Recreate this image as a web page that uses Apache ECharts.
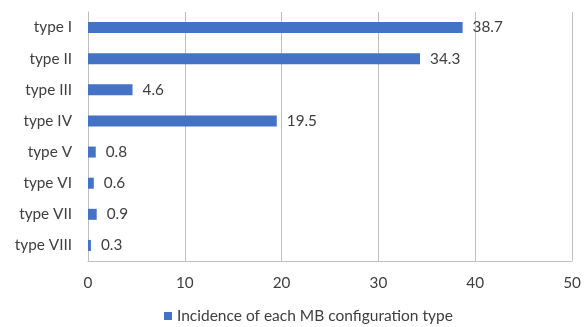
<!DOCTYPE html>
<html><head><meta charset="utf-8">
<script src="https://cdn.jsdelivr.net/npm/echarts@6/dist/echarts.min.js"></script>
<style>html,body{margin:0;padding:0;background:#fff}#c{width:587px;height:327px}</style>
</head><body><div id="c"></div>
<script>
const categories = ["type I","type II","type III","type IV","type V","type VI","type VII","type VIII"];
const values = [38.7, 34.3, 4.6, 19.5, 0.8, 0.6, 0.9, 0.3];
const xTicks = [0, 10, 20, 30, 40, 50];
const seriesName = "Incidence of each MB configuration type";
const font = "Lato, 'Open Sans', sans-serif";
const chart = echarts.init(document.getElementById('c'), null, {renderer:'canvas'});
chart.setOption({
  animation:false,
  backgroundColor:'#fff',
  grid:{left:88, right:15, top:12, bottom:66, containLabel:false},
  legend:{bottom:-2, left:159, icon:'rect', itemWidth:8, itemHeight:8, itemGap:4,
    textStyle:{fontFamily:font, fontSize:15.5, color:'#404040'}, data:[seriesName]},
  xAxis:{type:'value', min:xTicks[0], max:xTicks[xTicks.length-1], interval:10,
    axisLine:{show:true, lineStyle:{color:'#bfbfbf'}}, axisTick:{show:false},
    axisLabel:{fontFamily:font, fontSize:15.3, color:'#404040', margin:15},
    splitLine:{show:true, lineStyle:{color:'#bfbfbf'}}},
  yAxis:{type:'category', data:categories, inverse:true,
    axisLine:{show:true, lineStyle:{color:'#bfbfbf'}}, axisTick:{show:false},
    axisLabel:{fontFamily:font, fontSize:15.3, color:'#404040', margin:16}},
  series:[{name:seriesName, type:'bar', data:values, barWidth:11,
    itemStyle:{color:'#4472C4'},
    label:{show:true, position:'right', distance:10, fontFamily:font, fontSize:15.3, color:'#404040'}}]
});
</script></body></html>
